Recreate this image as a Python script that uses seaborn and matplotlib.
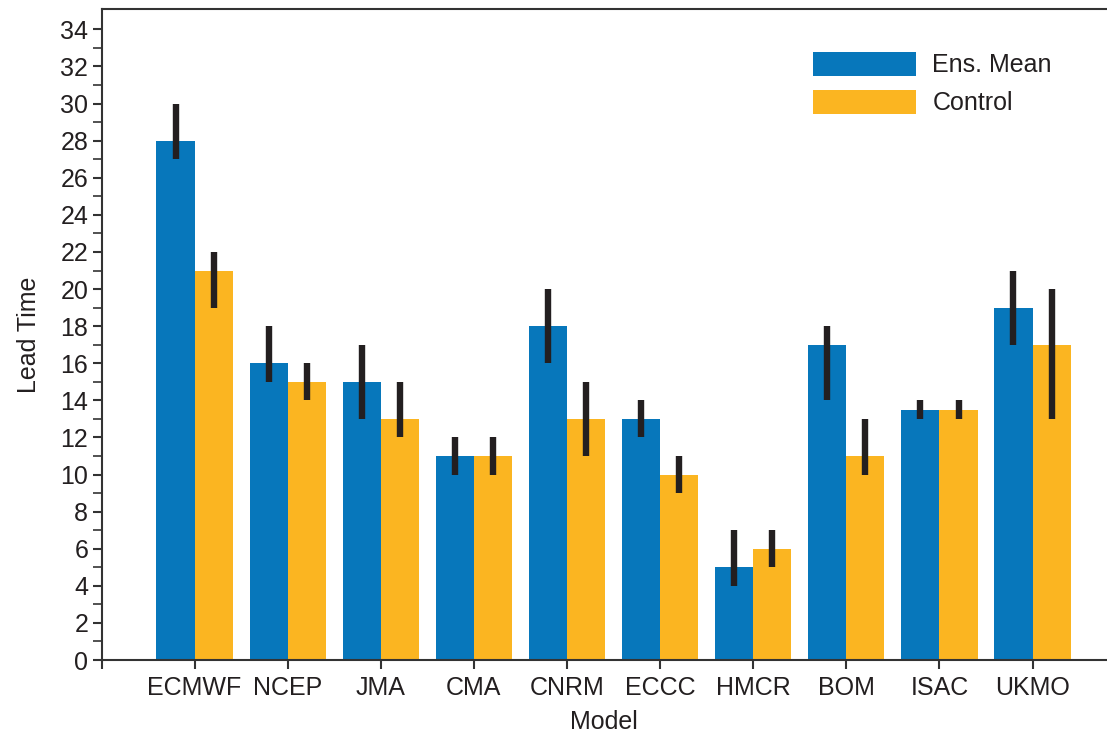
import matplotlib
matplotlib.use("Agg")
import matplotlib.pyplot as plt
import seaborn as sns
import pandas as pd
import numpy as np

models = ["ECMWF", "NCEP", "JMA", "CMA", "CNRM", "ECCC", "HMCR", "BOM", "ISAC", "UKMO"]
series = ["Ens. Mean", "Control"]
ens_mean = [28, 16, 15, 11, 18, 13, 5, 17, 13.5, 19]
ens_lo = [27, 15, 13, 10, 16, 12, 4, 14, 13, 17]
ens_hi = [30, 18, 17, 12, 20, 14, 7, 18, 14, 21]
control = [21, 15, 13, 11, 13, 10, 6, 11, 13.5, 17]
ctrl_lo = [19, 14, 12, 10, 11, 9, 5, 10, 13, 13]
ctrl_hi = [22, 16, 15, 12, 15, 11, 7, 13, 14, 20]
y_ticks = list(range(0, 35, 2))

sns.set_theme(style="ticks")
plt.rcParams["font.family"] = ["Liberation Sans", "DejaVu Sans"]

ink = "#231f20"
blue = "#0777BB"
orange = "#FBB521"

df = pd.DataFrame({
    "Model": models * 2,
    "Series": [series[0]] * len(models) + [series[1]] * len(models),
    "Lead Time": ens_mean + control,
    "lo": ens_lo + ctrl_lo,
    "hi": ens_hi + ctrl_hi,
})

fig = plt.figure(figsize=(11.07, 7.38), dpi=100)
ax = fig.add_axes([101.5 / 1107, 1 - 660 / 738, 1 - 101.5 / 1107, (660 - 9) / 738])

sns.barplot(data=df, x="Model", y="Lead Time", hue="Series", order=models,
            hue_order=series, palette=[blue, orange], saturation=1, width=0.82,
            errorbar=None, linewidth=0, ax=ax, legend=True)

# error bars placed at the dodged bar centres (each bar is 0.41 wide)
for s_idx, s in enumerate(series):
    sub = df[df["Series"] == s].reset_index(drop=True)
    offset = -0.205 if s_idx == 0 else 0.205
    ax.vlines(np.arange(len(models)) + offset, sub["lo"], sub["hi"],
              color=ink, lw=4.6, zorder=5)

ax.set_xlim(-1, 9.8)
ax.set_ylim(0, 35.1)
ax.set_xticks([-1] + list(range(len(models))))
ax.set_xticklabels([""] + models)
ax.set_yticks(y_ticks)
ax.set_yticks(np.arange(0, 35, 1), minor=True)

for side in ["left", "bottom", "top"]:
    ax.spines[side].set_linewidth(1.5)
    ax.spines[side].set_color("#333333")
ax.spines["right"].set_visible(False)

ax.tick_params(axis="both", which="major", length=6.5, width=1.5, color="#333333",
               labelsize=18, labelcolor=ink)
ax.tick_params(axis="x", which="major", pad=5)
ax.tick_params(axis="y", which="major", pad=3)
ax.tick_params(axis="y", which="minor", length=6.5, width=1.2, color="#333333")
ax.set_xlabel("Model", fontsize=18, color=ink, labelpad=7)
ax.set_ylabel("Lead Time", fontsize=18, color=ink, labelpad=14)

leg = ax.legend(loc="upper left", bbox_to_anchor=(813 / 1107, 1 - 52 / 738),
                bbox_transform=fig.transFigure, frameon=False, fontsize=18,
                handlelength=4.1, handleheight=1.1, handletextpad=0.68,
                labelspacing=0.5, borderpad=0, borderaxespad=0)
for t in leg.get_texts():
    t.set_color(ink)

fig.savefig("out.png", dpi=100)
